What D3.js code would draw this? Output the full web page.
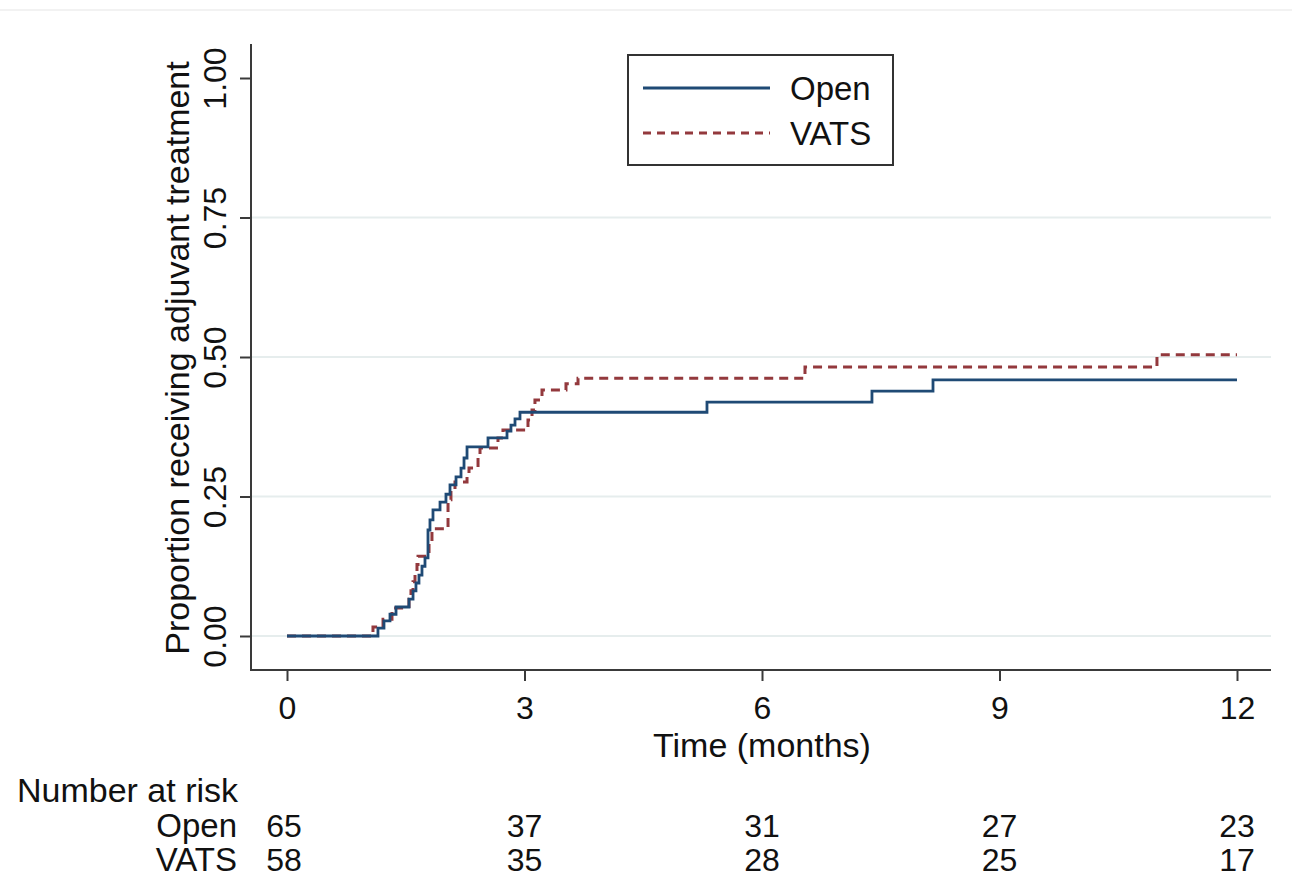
<!DOCTYPE html>
<html>
<head>
<meta charset="utf-8">
<script src="https://cdn.jsdelivr.net/npm/d3@7"></script>
<style>
  html, body { margin: 0; padding: 0; background: #ffffff; }
  svg { display: block; }
  text { font-family: "Liberation Sans", Arial, sans-serif; fill: #111; }
</style>
</head>
<body>
<svg id="chart" width="1292" height="879"></svg>
<script>
// Cumulative proportion receiving adjuvant treatment (1 - KM), by surgical approach
const openTime = [0, 1.149, 1.225, 1.301, 1.377, 1.541, 1.592, 1.629, 1.667, 1.705, 1.743,
  1.781, 1.806, 1.844, 1.933, 2.008, 2.059, 2.135, 2.198, 2.236, 2.274, 2.539, 2.779,
  2.829, 2.880, 2.943, 5.305, 7.389, 8.160, 12];
const openProp = [0, 0.014, 0.027, 0.039, 0.052, 0.066, 0.081, 0.095, 0.109, 0.125, 0.140,
  0.190, 0.208, 0.226, 0.240, 0.254, 0.271, 0.285, 0.301, 0.319, 0.339, 0.355, 0.367,
  0.378, 0.389, 0.401, 0.419, 0.439, 0.459, 0.459];

const vatsTime = [0, 1.086, 1.213, 1.326, 1.541, 1.566, 1.592, 1.617, 1.642, 1.655, 1.794,
  1.831, 2.034, 2.071, 2.122, 2.274, 2.299, 2.413, 2.438, 2.665, 2.728, 3.044, 3.095,
  3.132, 3.221, 3.524, 3.676, 6.543, 10.989, 12];
const vatsProp = [0, 0.016, 0.030, 0.050, 0.066, 0.081, 0.097, 0.111, 0.128, 0.143, 0.167,
  0.192, 0.244, 0.262, 0.276, 0.287, 0.301, 0.319, 0.337, 0.355, 0.369, 0.387, 0.405,
  0.423, 0.441, 0.452, 0.462, 0.482, 0.504, 0.504];

const xTicks = [0, 3, 6, 9, 12];
const yTicks = [0, 0.25, 0.5, 0.75, 1];
const gridTicks = [0, 0.25, 0.5, 0.75];

const riskTimes = [0, 3, 6, 9, 12];
const riskOpen = [65, 37, 31, 27, 23];
const riskVats = [58, 35, 28, 25, 17];

const seriesNames = ["Open", "VATS"];
const seriesColors = ["#1f4a75", "#93393d"];

const svg = d3.select("#chart");

const x = d3.scaleLinear().domain([0, 12]).range([287, 1237]);
const y = d3.scaleLinear().domain([0, 1]).range([636, 78]);

const plotLeft = 251, plotRight = 1271, plotTop = 44, plotBottom = 670;

// thin frame line across the top of the page
svg.append("line")
  .attr("x1", 0).attr("x2", 1292).attr("y1", 10).attr("y2", 10)
  .attr("stroke", "#eeeeee").attr("stroke-width", 1.5);

// horizontal gridlines
svg.append("g").selectAll("line").data(gridTicks).join("line")
  .attr("x1", plotLeft).attr("x2", plotRight)
  .attr("y1", d => y(d)).attr("y2", d => y(d))
  .attr("stroke", "#e6eded").attr("stroke-width", 2);

// axes
const yAxis = d3.axisLeft(y).tickValues(yTicks).tickFormat(d3.format(".2f"))
  .tickSize(11).tickPadding(0);
const gy = svg.append("g").attr("transform", `translate(${plotLeft},0)`).call(yAxis);
gy.select(".domain").remove();
gy.selectAll(".tick line").attr("stroke", "#3a3a3a").attr("stroke-width", 2);
gy.selectAll(".tick text")
  .attr("x", 0).attr("dy", 0)
  .attr("transform", "translate(-25,0) rotate(-90)")
  .attr("text-anchor", "middle")
  .style("font-size", "32px")
  .attr("fill", "#111");

const xAxis = d3.axisBottom(x).tickValues(xTicks).tickFormat(d3.format("d"))
  .tickSize(11).tickPadding(0);
const gx = svg.append("g").attr("transform", `translate(0,${plotBottom})`).call(xAxis);
gx.select(".domain").remove();
gx.selectAll(".tick line").attr("stroke", "#3a3a3a").attr("stroke-width", 2);
gx.selectAll(".tick text")
  .attr("y", 49).attr("dy", 0)
  .style("font-size", "32px")
  .attr("fill", "#111");

svg.append("line")
  .attr("x1", plotLeft).attr("x2", plotLeft).attr("y1", plotTop).attr("y2", plotBottom + 1)
  .attr("stroke", "#3a3a3a").attr("stroke-width", 2);
svg.append("line")
  .attr("x1", plotLeft - 1).attr("x2", plotRight).attr("y1", plotBottom).attr("y2", plotBottom)
  .attr("stroke", "#3a3a3a").attr("stroke-width", 2);

// axis titles
svg.append("text")
  .attr("transform", "translate(189,358) rotate(-90)")
  .attr("text-anchor", "middle")
  .style("font-size", "34px")
  .text("Proportion receiving adjuvant treatment");

svg.append("text")
  .attr("x", 762).attr("y", 757)
  .attr("text-anchor", "middle")
  .style("font-size", "34px")
  .text("Time (months)");

// step curves
const step = d3.line().curve(d3.curveStepAfter).x(d => x(d[0])).y(d => y(d[1]));
const openPts = d3.zip(openTime, openProp);
const vatsPts = d3.zip(vatsTime, vatsProp);

svg.append("path").datum(vatsPts)
  .attr("d", step).attr("fill", "none")
  .attr("stroke", seriesColors[1]).attr("stroke-width", 3)
  .attr("stroke-dasharray", "9,6");

svg.append("path").datum(openPts)
  .attr("d", step).attr("fill", "none")
  .attr("stroke", seriesColors[0]).attr("stroke-width", 2.8);

// legend
const lg = svg.append("g");
lg.append("rect")
  .attr("x", 628).attr("y", 55).attr("width", 265).attr("height", 110)
  .attr("fill", "#ffffff").attr("stroke", "#333").attr("stroke-width", 2);
const legendRows = [{ yLine: 88, yText: 100 }, { yLine: 133, yText: 145 }];
seriesNames.forEach((name, i) => {
  lg.append("line")
    .attr("x1", 643).attr("x2", 770)
    .attr("y1", legendRows[i].yLine).attr("y2", legendRows[i].yLine)
    .attr("stroke", seriesColors[i]).attr("stroke-width", 2.8)
    .attr("stroke-dasharray", i === 1 ? "8,6" : null);
  lg.append("text")
    .attr("x", 790).attr("y", legendRows[i].yText)
    .style("font-size", "33px")
    .text(name);
});

// number at risk table
svg.append("text")
  .attr("x", 17).attr("y", 802)
  .style("font-size", "34px")
  .text("Number at risk");

const riskRows = [
  { name: "Open", values: riskOpen, yText: 837 },
  { name: "VATS", values: riskVats, yText: 871 }
];
riskRows.forEach(row => {
  svg.append("text")
    .attr("x", 237).attr("y", row.yText)
    .attr("text-anchor", "end")
    .style("font-size", "33px")
    .text(row.name);
  svg.append("g").selectAll("text").data(riskTimes).join("text")
    .attr("x", (d, i) => x(d) + (i === 0 ? -3 : 0))
    .attr("y", row.yText)
    .attr("text-anchor", "middle")
    .style("font-size", "32px")
    .text((d, i) => row.values[i]);
});
</script>
</body>
</html>
